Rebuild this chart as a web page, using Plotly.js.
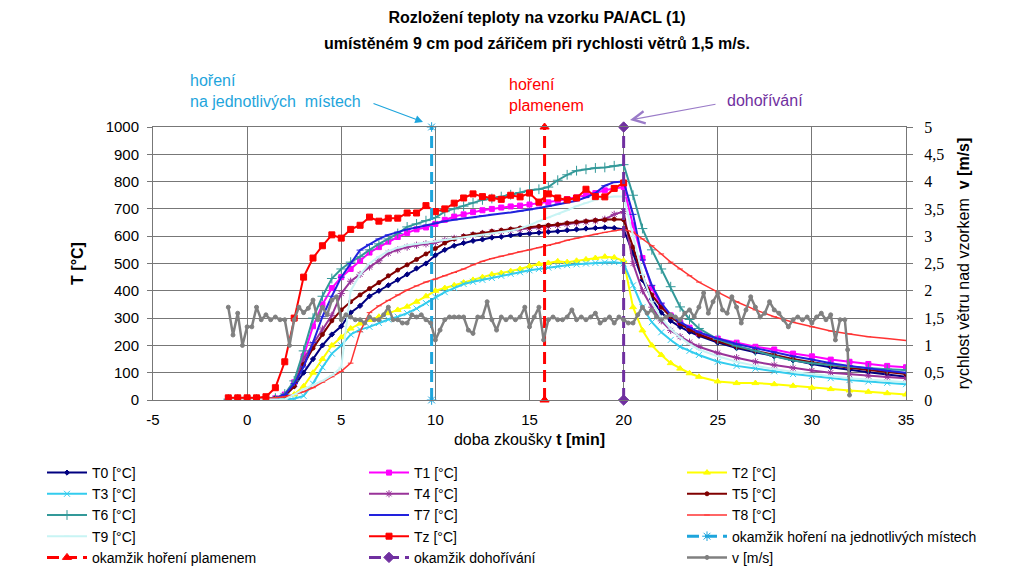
<!DOCTYPE html>
<html><head><meta charset="utf-8">
<script src="https://cdn.plot.ly/plotly-3.0.1.min.js"></script>
<style>html,body{margin:0;padding:0;background:#fff}#chart{width:1024px;height:579px}</style>
</head><body><div id="chart"></div>
<script>
// time [min]
const tMain = [-1,-0.5,0,0.5,1,1.5,2,2.5,3,3.5,4,4.5,5,5.5,6,6.5,7,7.5,8,8.5,9,9.5,10,10.5,11,11.5,12,12.5,13,13.5,14,14.5,15,15.5,16,16.5,17,17.5,18,18.5,19,19.5,20,
  20.5,21,21.5,22,22.5,23,23.5,24,25,26,27,28,29,30,31,32,33,34,35];
const tZ = [-1,-0.5,0,0.5,1,1.5,2,2.5,3,3.5,4,4.5,5,5.5,6,6.5,7,7.5,8,8.5,9,9.5,10,10.5,11,11.5,12,12.5,13,13.5,14,14.5,15,15.5,16,16.5,17,17.5,18,18.5,19,19.5,20];

const T0 = [3,3,3,3,4,8,15,50,100,150,200,240,270,320,345,380,400,420,440,460,482,500,530,550,565,575,583,588,595,598,603,607,610,613,616,618,622,625,628,630,632,630,625,
  538,440,370,320,290,268,250,235,210,190,175,160,145,132,120,110,102,93,85];
const T1 = [3,3,3,3,4,6,20,65,160,270,350,410,450,480,510,540,560,580,597,612,625,632,645,660,672,680,688,695,700,705,709,712,716,720,724,730,736,742,750,758,768,775,780,
  640,520,410,345,310,285,265,245,225,210,195,185,170,160,148,140,132,125,120];
const T2 = [2,2,2,2,2,2,5,20,50,100,150,200,230,262,280,293,305,318,330,342,360,380,400,410,420,430,440,450,460,465,472,480,490,498,502,508,505,510,515,520,525,522,510,
  340,255,200,165,135,115,98,85,68,62,62,58,52,45,40,35,30,25,20];
const T3 = [2,2,2,2,2,2,3,5,15,60,120,170,200,240,258,268,282,295,305,318,335,355,378,395,410,425,433,440,447,455,462,468,475,480,485,490,494,497,500,502,504,505,500,
  420,340,285,248,220,195,180,165,140,125,115,105,95,88,80,73,68,63,58];
const T4 = [3,3,3,3,3,6,18,60,150,205,260,310,390,435,460,487,510,538,550,560,567,572,577,585,592,598,605,610,615,618,622,625,628,632,636,640,644,648,652,656,662,680,690,
  500,400,340,290,255,232,212,195,172,155,140,128,117,108,100,94,88,84,80];
const T5 = [3,3,3,3,3,6,16,50,130,190,240,290,330,360,385,408,430,455,476,495,515,535,555,575,590,600,607,612,618,622,626,630,633,636,640,643,648,652,655,658,660,662,660,
  560,450,385,340,305,280,258,240,215,195,180,165,150,138,127,118,110,102,95];
const T6 = [3,3,3,3,3,7,22,70,180,300,380,445,480,505,525,550,572,590,610,634,645,657,668,690,700,710,722,733,738,745,752,760,768,772,780,805,825,840,845,850,852,858,862,
  750,628,550,480,415,341,295,262,222,198,180,160,145,135,128,122,117,113,110];
const T7 = [2,2,2,2,3,6,20,60,121,210,305,380,450,500,549,570,590,605,615,625,632,640,648,655,660,665,668,675,680,683,687,692,697,703,710,717,723,730,742,758,785,798,800,
  680,513,420,355,312,285,265,248,225,205,190,175,160,148,135,125,115,107,100];
const T8 = [2,2,2,3,5,8,12,20,30,45,65,85,105,135,250,320,345,365,385,403,418,432,443,455,467,480,495,508,518,527,535,543,550,558,566,575,585,593,600,607,614,620,625,
  615,590,565,535,505,480,455,432,395,360,330,305,285,268,253,242,232,225,218];
const T9 = [2,2,2,2,2,2,2,20,40,55,70,90,120,400,460,500,525,545,558,567,572,575,580,585,590,595,600,605,610,615,620,628,640,655,668,680,695,710,722,733,742,745,745,
  600,460,360,300,260,230,205,185,160,140,125,113,103,95,87,80,75,70,65];
const Tz = [8,8,8,8,12,45,140,300,450,520,565,605,593,625,640,670,655,666,666,685,685,712,690,700,721,740,755,745,740,735,750,744,758,725,755,740,733,740,772,745,744,775,795];

// event moments [min]
const tLocal = 9.8, tFlame = 15.8, tAfter = 20;
const eventY = [0, 1000];

// wind speed
const vT = [-1,-0.75,-0.5,-0.25, 0,0.25,0.5,0.75, 1,1.25,1.5,1.75, 2,2.25,2.5,2.75, 3,3.25,3.5,3.75, 4,4.25,4.5,4.75,
  5,5.25,5.5,5.75, 6,6.25,6.5,6.75, 7,7.25,7.5,7.75, 8,8.25,8.5,8.75, 9,9.25,9.5,9.75, 10,10.25,10.5,10.75,
  11,11.25,11.5,11.75, 12,12.25,12.5,12.75, 13,13.25,13.5,13.75, 14,14.25,14.5,14.75, 15,15.25,15.5,15.75,
  16,16.25,16.5,16.75, 17,17.25,17.5,17.75, 18,18.25,18.5,18.75, 19,19.25,19.5,19.75, 20,20.25,20.5,20.75,
  21,21.25,21.5,21.75, 22,22.25,22.5,22.75, 23,23.25,23.5,23.75, 24,24.25,24.5,24.75, 25,25.25,25.5,25.75,
  26,26.25,26.5,26.75, 27,27.25,27.5,27.75, 28,28.25,28.5,28.75, 29,29.25,29.5,29.75, 30,30.25,30.5,30.75,
  31,31.25,31.5,31.75, 31.9,32];
const vV = [1.70,1.19,1.59,1.00, 1.34,1.34,1.70,1.47, 1.56,1.47,1.52,1.47, 1.47,1.00,1.47,1.70, 1.60,1.68,1.83,1.47, 1.70,1.56,1.83,1.89,
  1.47,1.56,1.52,1.47, 1.47,1.41,1.52,1.47, 1.47,1.56,1.70,1.47, 1.47,1.41,1.41,1.56, 1.52,1.56,1.47,1.41, 1.10,1.28,1.47,1.52,
  1.52,1.52,1.52,1.28, 1.22,1.52,1.52,1.80, 1.47,1.28,1.52,1.47, 1.52,1.47,1.52,1.70, 1.34,1.52,1.70,1.10,
  1.47,1.52,1.47,1.47, 1.52,1.65,1.47,1.52, 1.47,1.52,1.59,1.41, 1.47,1.52,1.41,1.52, 1.47,1.41,1.41,1.56,
  1.70,1.59,1.65,1.52, 1.47,1.52,1.56,1.52, 1.47,1.59,1.65,1.52, 1.70,1.96,1.59,1.80, 1.96,1.65,1.59,1.89,
  1.70,1.41,1.65,1.89, 1.70,1.52,1.59,1.80, 1.65,1.59,1.47,1.34, 1.47,1.52,1.47,1.52, 1.41,1.52,1.59,1.47,
  1.56,1.10,1.47,1.47, 0.92,0.09];

const xTicks = [-5,0,5,10,15,20,25,30,35];
const xTickText = ['-5','0','5','10','15','20','25','30','35'];
const yTicks = [0,100,200,300,400,500,600,700,800,900,1000];
const vTicks = [0,0.5,1,1.5,2,2.5,3,3.5,4,4.5,5];
const vTickText = ['0','0,5','1','1,5','2','2,5','3','3,5','4','4,5','5'];

function tr(name, x, y, color, symbol, msize, lw, leg, extra) {
  return Object.assign({
    type: 'scatter', mode: 'lines+markers', name: name, x: x, y: y, legend: leg,
    line: {color: color, width: lw},
    marker: {symbol: symbol, size: msize, color: color, line: {color: color, width: 1}}
  }, extra || {});
}

const data = [
  tr('T0 [°C]', tMain, T0, '#000080', 'diamond', 4, 2, 'legend'),
  tr('T1 [°C]', tMain, T1, '#ff00ff', 'square', 5, 2, 'legend2'),
  tr('T2 [°C]', tMain, T2, '#ffff00', 'triangle-up', 6, 2, 'legend3'),
  tr('T3 [°C]', tMain, T3, '#33ccee', 'x-thin-open', 6, 2, 'legend'),
  tr('T4 [°C]', tMain, T4, '#993399', 'asterisk-open', 6, 2, 'legend2'),
  tr('T5 [°C]', tMain, T5, '#800000', 'circle', 4, 2, 'legend3'),
  tr('T6 [°C]', tMain, T6, '#339999', 'cross-thin-open', 7, 2, 'legend'),
  tr('T7 [°C]', tMain, T7, '#2222dd', 'line-ew-open', 5, 2, 'legend2'),
  tr('T8 [°C]', tMain, T8, '#ff3333', 'line-ew-open', 4, 1.5, 'legend3'),
  tr('T9 [°C]', tMain, T9, '#c8f4f4', 'line-ew-open', 4, 2, 'legend'),
  tr('Tz [°C]', tZ, Tz, '#ff0000', 'square', 6, 2, 'legend2'),
  tr('okamžik hoření na jednotlivých místech', [tLocal, tLocal], eventY, '#1ea5dc', 'asterisk-open', 8, 3, 'legend3',
     {line: {color: '#1ea5dc', width: 3, dash: '12px,6px'}, cliponaxis: false}),
  tr('okamžik hoření plamenem', [tFlame, tFlame], eventY, '#ff0000', 'triangle-up', 8, 3, 'legend',
     {line: {color: '#ff0000', width: 3, dash: '12px,6px'}, cliponaxis: false}),
  tr('okamžik dohořívání', [tAfter, tAfter], eventY, '#7030a0', 'diamond', 8, 3, 'legend2',
     {line: {color: '#7030a0', width: 3, dash: '12px,6px'}, cliponaxis: false}),
  tr('v [m/s]', vT, vV, '#808080', 'circle', 4, 2.5, 'legend3', {yaxis: 'y2'})
];

const F = 'Liberation Sans, Arial, sans-serif';
const legY = (400 - 457) / 273;
function leg(xpx) {
  return {orientation: 'v', x: (xpx - 153) / 753, xanchor: 'left', y: legY, yanchor: 'top',
          font: {family: F, size: 14, color: '#000'}, itemwidth: 40, traceorder: 'normal',
          bgcolor: 'rgba(0,0,0,0)', borderwidth: 0};
}
const layout = {
  width: 1024, height: 579,
  margin: {l: 153, r: 118, t: 127, b: 179, autoexpand: false},
  paper_bgcolor: '#fff', plot_bgcolor: '#fff',
  font: {family: F, size: 15, color: '#000'},
  title: {text: '<b>Rozložení teploty na vzorku PA/ACL (1)</b>', font: {family: F, size: 16, color: '#000'},
          x: 0.51, xref: 'paper', xanchor: 'center', y: 1 - 17/579, yref: 'container', yanchor: 'middle'},
  showlegend: true,
  legend: leg(42), legend2: leg(364), legend3: leg(682),
  xaxis: {range: [-5, 35], tickvals: xTicks, ticktext: xTickText, showgrid: true, gridcolor: '#777', gridwidth: 1,
          zeroline: false, showline: true, linecolor: '#777', mirror: true, ticks: '',
          ticklabelstandoff: 6, tickfont: {family: F, size: 15, color: '#000'},
          title: {text: 'doba zkoušky <b>t [min]</b>', font: {family: F, size: 16, color: '#000'}, standoff: 6}},
  yaxis: {range: [0, 1000], tickvals: yTicks, showgrid: true, gridcolor: '#777', gridwidth: 1,
          zeroline: false, showline: true, linecolor: '#777', ticks: 'outside', ticklen: 5, tickcolor: '#777',
          ticklabelstandoff: 5, tickfont: {family: F, size: 15, color: '#000'},
          title: {text: '<b>T [°C]</b>', font: {family: F, size: 16, color: '#000'}, standoff: 18}},
  yaxis2: {range: [0, 5], overlaying: 'y', side: 'right', anchor: 'x', tickvals: vTicks, ticktext: vTickText,
           showgrid: false, zeroline: false, showline: true, linecolor: '#777', ticks: 'outside', ticklen: 6, tickcolor: '#777',
           ticklabelstandoff: 8, tickfont: {family: 'Liberation Serif, Times New Roman, serif', size: 16, color: '#000'},
           title: {text: 'rychlost větru nad vzorkem&nbsp; <b>v [m/s]</b>', font: {family: F, size: 16, color: '#000'}, standoff: 14}},
  annotations: [
    {text: '<b>umístěném 9 cm pod zářičem při rychlosti větrů 1,5 m/s.</b>', xref: 'paper', yref: 'paper',
     x: 0.51, y: (400 - 44) / 273, xanchor: 'center', yanchor: 'middle', showarrow: false,
     font: {family: F, size: 16, color: '#000'}},
    {text: 'hoření<br>na jednotlivých  místech', xref: 'paper', yref: 'paper', x: (188 - 153) / 753, y: (400 - 91) / 273,
     xanchor: 'left', yanchor: 'middle', align: 'left', showarrow: false, font: {family: F, size: 16, color: '#1ea5dc'}},
    {text: 'hoření<br>plamenem', xref: 'paper', yref: 'paper', x: (507 - 153) / 753, y: (400 - 95) / 273,
     xanchor: 'left', yanchor: 'middle', align: 'left', showarrow: false, font: {family: F, size: 16, color: '#ff0000'}},
    {text: 'dohořívání', xref: 'paper', yref: 'paper', x: (725 - 153) / 753, y: (400 - 101) / 273,
     xanchor: 'left', yanchor: 'middle', align: 'left', showarrow: false, font: {family: F, size: 16, color: '#7030a0'}},
    {text: '', xref: 'paper', yref: 'paper', x: (423 - 153) / 753, y: (400 - 122) / 273, showarrow: true, ax: -51, ay: -19,
     arrowcolor: '#1ea5dc', arrowwidth: 1.2, arrowhead: 2, arrowsize: 1.3},
    {text: '', xref: 'paper', yref: 'paper', x: (630 - 153) / 753, y: (400 - 120) / 273, showarrow: true, ax: 87, ay: -16,
     arrowcolor: '#9a7bc8', arrowwidth: 1.2, arrowhead: 5, arrowsize: 2}
  ]
};

Plotly.newPlot('chart', data, layout, {displayModeBar: false, staticPlot: true});
</script></body></html>
